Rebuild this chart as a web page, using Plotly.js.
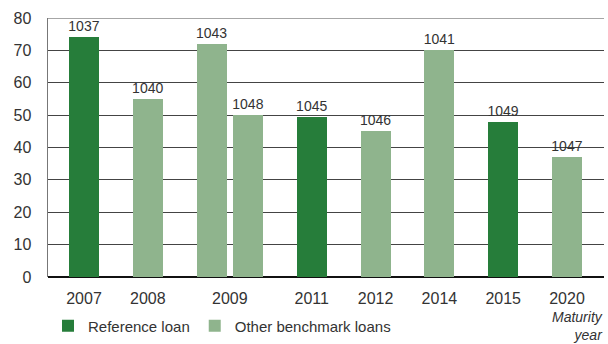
<!DOCTYPE html>
<html>
<head>
<meta charset="utf-8">
<script src="https://cdn.plot.ly/plotly-3.0.1.min.js"></script>
<style>html,body{margin:0;padding:0;background:#fff;}#chart{width:608px;height:344px;}</style>
</head>
<body>
<div id="chart"></div>
<script>
// Data
const maturityYears = ['2007','2008','2009','2009','2011','2012','2014','2015','2020'];
const loanIds       = ['1037','1040','1043','1048','1045','1046','1041','1049','1047'];
const amounts       = [74, 55, 72, 50, 49.5, 45, 70, 48, 37];
const isReference   = [true, false, false, false, true, false, false, true, false];
const seriesNames   = ['Reference loan', 'Other benchmark loans'];
const yTicks        = [0,10,20,30,40,50,60,70,80];

// Compute slot positions: loans sharing a maturity year sit side by side
const pairGap = 0.57;
const xPos = [];
const tickVals = [];
const tickText = [];
let cursor = 0;
let i = 0;
while (i < maturityYears.length) {
  let j = i;
  while (j < maturityYears.length && maturityYears[j] === maturityYears[i]) j++;
  const n = j - i;
  for (let k = 0; k < n; k++) xPos.push(cursor + k * pairGap);
  tickVals.push(cursor + (n - 1) * pairGap / 2);
  tickText.push(maturityYears[i]);
  cursor += 1 + (n - 1) * pairGap;
  i = j;
}

const colors = ['#267d3a', '#8fb48d'];
const font = 'Liberation Sans, Arial, sans-serif';

function makeTrace(ref, idx) {
  const x = [], y = [], t = [];
  for (let k = 0; k < amounts.length; k++) {
    if (isReference[k] === ref) { x.push(xPos[k]); y.push(amounts[k]); t.push(loanIds[k]); }
  }
  return {
    type: 'bar', x: x, y: y, text: t, name: seriesNames[idx],
    width: 0.47,
    marker: {color: colors[idx], line: {width: 0}},
    textposition: 'outside', texttemplate: '%{text}',
    textfont: {family: font, size: 14, color: '#333'},
    constraintext: 'none', cliponaxis: false,
    hoverinfo: 'none'
  };
}

const data = [makeTrace(true, 0), makeTrace(false, 1)];

const layout = {
  width: 608, height: 344,
  margin: {l: 48, r: 4, t: 18, b: 67},
  paper_bgcolor: '#fff', plot_bgcolor: '#fff',
  font: {family: font, size: 16, color: '#333'},
  showlegend: true,
  bargap: 0,
  xaxis: {
    range: [-0.564, 8.15],
    tickmode: 'array', tickvals: tickVals, ticktext: tickText,
    showgrid: false, zeroline: false,
    showline: false,
    ticks: '', ticklabelstandoff: 10,
    tickfont: {family: font, size: 16, color: '#333'},
    fixedrange: true
  },
  yaxis: {
    range: [0, 80],
    tickmode: 'array', tickvals: yTicks,
    showgrid: true, gridcolor: '#444', gridwidth: 1,
    zeroline: true, zerolinecolor: '#111', zerolinewidth: 1.5,
    showline: true, linecolor: '#777', linewidth: 1.5,
    ticks: '', ticklabelstandoff: 12,
    tickfont: {family: font, size: 16, color: '#333'},
    fixedrange: true
  },
  legend: {
    orientation: 'h', xref: 'paper', x: 0, xanchor: 'left',
    yref: 'container', y: 0.1, yanchor: 'top',
    font: {family: font, size: 15, color: '#333'},
    itemclick: false, itemdoubleclick: false,
    tracegroupgap: 0
  },
  annotations: [{
    xref: 'paper', yref: 'paper', x: 1.0, y: -0.258, xanchor: 'right', yanchor: 'bottom',
    text: '<i>Maturity<br>year</i>', showarrow: false, align: 'right',
    borderpad: 0,
    font: {family: font, size: 14, color: '#333'}
  }],
  shapes: [{
    type: 'line', xref: 'paper', yref: 'y', x0: 0, x1: 1, y0: 80, y1: 80,
    line: {color: '#888', width: 1.5}
  }]
};

Plotly.newPlot('chart', data, layout, {displayModeBar: false, staticPlot: true});
</script>
</body>
</html>
